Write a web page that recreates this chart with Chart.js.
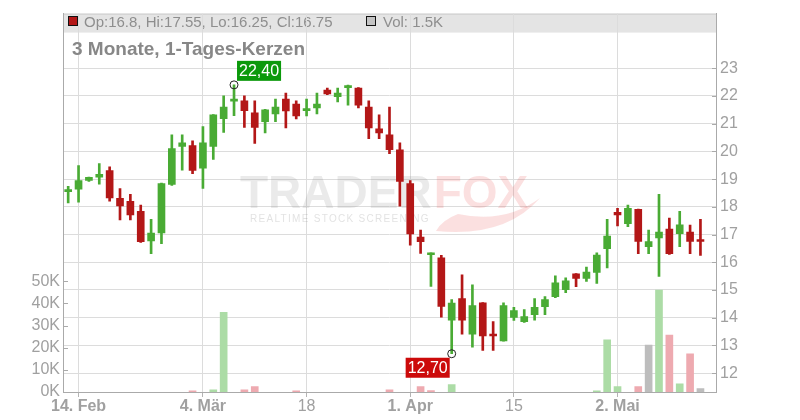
<!DOCTYPE html>
<html lang="de">
<head>
<meta charset="UTF-8" />
<title>3 Monate, 1-Tages-Kerzen</title>
<script src="https://cdn.jsdelivr.net/npm/chart.js@4.4.1/dist/chart.umd.min.js"></script>
<style>
  html, body { margin: 0; padding: 0; background: #fff; }
  #wrap { width: 800px; height: 420px; }
</style>
</head>
<body>
<div id="wrap"><canvas id="chart" width="800" height="420"></canvas></div>
<script>
const FONT = "'Liberation Sans', Arial, sans-serif";

// x = trading day index (0 = first candle)
const tickIdx = [1, 13, 23, 33, 43, 53];
const tickLabels = ["14. Feb", "4. Mär", "18", "1. Apr", "15", "2. Mai"];
const priceTicks = [12, 13, 14, 15, 16, 17, 18, 19, 20, 21, 22, 23];
const volTicks = [0, 10, 20, 30, 40, 50]; // in K

const opens = [18.55, 18.64, 18.95, 19.07, 19.31, 18.31, 18.20, 17.84, 16.77, 17.06,
  18.81, 20.18, 20.21, 19.39, 20.18, 21.18, 21.81, 21.82, 21.39, 21.07,
  21.35, 21.89, 21.71, 21.47, 21.57, 22.21, 21.97, 22.30, 22.28, 21.60,
  20.81, 20.60, 20.06, 18.84, 16.91, 16.27, 16.16, 13.91, 14.69, 13.41,
  14.54, 13.40, 13.16, 14.01, 13.86, 14.11, 14.40, 14.76, 15.01, 15.58,
  15.42, 15.63, 16.49, 17.80, 17.39, 17.91, 16.56, 16.88, 17.20, 17.03,
  17.09, 16.80];
const highs = [18.74, 19.49, 19.07, 19.56, 19.44, 18.66, 18.45, 18.06, 17.55, 18.86,
  20.60, 20.60, 20.38, 20.89, 21.33, 22.00, 22.40, 22.00, 21.82, 21.52,
  21.89, 22.10, 21.82, 21.89, 22.10, 22.28, 22.28, 22.39, 22.30, 21.82,
  21.32, 21.60, 20.31, 18.95, 17.16, 16.34, 16.25, 14.65, 15.55, 15.19,
  14.55, 13.86, 14.54, 14.37, 14.29, 14.69, 14.76, 15.51, 15.44, 15.59,
  15.83, 16.34, 17.55, 17.95, 18.06, 17.92, 17.16, 18.45, 17.59, 17.84,
  17.34, 17.55];
const lows = [18.14, 18.17, 18.92, 18.82, 18.20, 17.53, 17.53, 16.72, 16.31, 16.67,
  18.77, 19.32, 19.20, 18.66, 19.71, 20.68, 21.29, 20.86, 20.29, 20.67,
  21.07, 20.85, 21.17, 21.28, 21.35, 22.05, 21.78, 21.67, 21.57, 20.46,
  20.46, 19.92, 18.02, 16.62, 16.32, 15.13, 14.02, 12.70, 13.41, 12.94,
  12.82, 12.82, 13.15, 13.90, 13.83, 13.91, 14.11, 14.72, 14.90, 15.12,
  15.31, 15.24, 15.80, 17.31, 17.28, 16.31, 16.31, 15.49, 16.28, 16.56,
  16.31, 16.25];
const closes = [18.57, 18.95, 19.06, 19.17, 18.32, 18.03, 17.71, 16.74, 17.05, 18.84,
  20.10, 20.31, 19.31, 20.31, 21.32, 21.60, 21.89, 21.47, 20.86, 21.50,
  21.60, 21.46, 21.28, 21.50, 21.71, 22.07, 22.10, 22.33, 21.67, 20.85,
  20.67, 20.06, 18.92, 17.02, 16.74, 16.34, 14.41, 14.53, 13.91, 14.44,
  13.34, 13.34, 14.44, 14.26, 14.04, 14.37, 14.65, 15.26, 15.33, 15.42,
  15.65, 16.26, 16.94, 17.71, 17.95, 16.75, 16.75, 17.09, 16.31, 17.35,
  16.75, 16.75];
const volumes = [0, 0, 0, 0, 0, 0, 0, 0, 0, 0,
  0, 0, 0.5, 0, 1.0, 36, 0, 1.0, 2.4, 0,
  0, 0, 0.5, 0, 0, 0, 0, 0, 0, 0,
  0, 1.0, 0, 0, 2.4, 0.6, 0, 3.3, 0, 0,
  0, 0, 0, 0, 0, 0, 0, 0, 0, 0,
  0, 0.5, 23.5, 2.4, 0, 2.4, 21.2, 46, 25.7, 3.7,
  17.2, 1.5];

const days = opens.map((_, i) => i);
const GREEN = '#49ab34', RED = '#b31717';
const candleColors = days.map(i => closes[i] >= opens[i] ? GREEN : RED);
const volColors = days.map(i => {
  if (i === 0 || closes[i] === closes[i - 1]) return '#bdbdbd';
  return closes[i] > closes[i - 1] ? '#acdca6' : '#eeaab0';
});

const fmt = v => v.toFixed(2).replace('.', ',');

const decor = {
  id: 'decor',
  beforeDraw(chart) {
    const { ctx, chartArea: a } = chart;
    const last = days.length - 1;
    ctx.save();
    // info bar
    ctx.fillStyle = '#e4e4e4';
    ctx.fillRect(a.left, a.top, a.right - a.left, 19);
    ctx.strokeStyle = '#cccccc';
    ctx.lineWidth = 1;
    ctx.beginPath();
    ctx.moveTo(a.left, a.top + 0.5);
    ctx.lineTo(a.right, a.top + 0.5);
    ctx.stroke();

    ctx.strokeStyle = '#111';
    ctx.fillStyle = candleColors[last];
    ctx.fillRect(68.5, 16.5, 9, 9);
    ctx.strokeRect(68.5, 16.5, 9, 9);
    ctx.fillStyle = '#c4c4c4';
    ctx.fillRect(366.5, 16.5, 9, 9);
    ctx.strokeRect(366.5, 16.5, 9, 9);

    ctx.font = '15px ' + FONT;
    ctx.fillStyle = '#8e8e8e';
    ctx.textBaseline = 'alphabetic';
    ctx.fillText('Op:' + opens[last] + ', Hi:' + highs[last] + ', Lo:' + lows[last] +
      ', Cl:' + closes[last], 84, 26.5);
    ctx.fillText('Vol: ' + volumes[last] + 'K', 383, 26.5);
    ctx.restore();
  },
  beforeDatasetsDraw(chart) {
    // watermark
    const { ctx } = chart;
    ctx.save();
    ctx.font = 'bold 46px ' + FONT;
    ctx.textBaseline = 'alphabetic';
    ctx.fillStyle = 'rgba(140,140,140,0.18)';
    ctx.fillText('TRADER', 240, 208);
    const w = ctx.measureText('TRADER').width;
    ctx.fillStyle = 'rgba(230,60,60,0.16)';
    ctx.fillText('FOX', 240 + w + 2, 208);
    ctx.beginPath();
    ctx.moveTo(436, 231);
    ctx.quadraticCurveTo(505, 238, 540, 198);
    ctx.quadraticCurveTo(505, 224, 458, 214);
    ctx.quadraticCurveTo(442, 220, 436, 231);
    ctx.fill();
    ctx.font = '10px ' + FONT;
    ctx.letterSpacing = '1.3px';
    ctx.fillStyle = 'rgba(140,140,140,0.25)';
    ctx.fillText('REALTIME STOCK SCREENING', 250, 222);
    ctx.restore();
  },
  afterDraw(chart) {
    const { ctx, chartArea: a, scales } = chart;
    ctx.save();
    // inward tick marks
    ctx.strokeStyle = '#aaaaaa';
    ctx.lineWidth = 1;
    ctx.beginPath();
    priceTicks.forEach(v => {
      const y = Math.round(scales.y.getPixelForValue(v)) + 0.5;
      ctx.moveTo(a.right - 4, y); ctx.lineTo(a.right, y);
    });
    volTicks.forEach(v => {
      const y = Math.round(scales.yVol.getPixelForValue(v)) + 0.5;
      ctx.moveTo(a.left, y); ctx.lineTo(a.left + 5, y);
    });
    ctx.stroke();

    // title
    ctx.font = 'bold 19px ' + FONT;
    ctx.fillStyle = '#878787';
    ctx.textBaseline = 'alphabetic';
    ctx.fillText('3 Monate, 1-Tages-Kerzen', 72, 55);

    // high / low markers
    const hi = highs.indexOf(Math.max(...highs));
    const lo = lows.indexOf(Math.min(...lows));
    const mark = (i, v, bg, above) => {
      const px = scales.x.getPixelForValue(i);
      const py = scales.y.getPixelForValue(v);
      ctx.strokeStyle = '#222';
      ctx.lineWidth = 1;
      ctx.beginPath();
      ctx.arc(px, py, 4, 0, Math.PI * 2);
      ctx.stroke();
      ctx.font = '16px ' + FONT;
      const txt = fmt(v);
      const bw = ctx.measureText(txt).width + 4;
      const bx = above ? px + 3 : px - 2 - bw;
      const by = above ? py - 24 : py + 4;
      ctx.fillStyle = bg;
      ctx.fillRect(bx, by, bw, 20);
      ctx.fillStyle = '#fff';
      ctx.textAlign = 'center';
      ctx.textBaseline = 'middle';
      ctx.fillText(txt, bx + bw / 2, by + 10.5);
      ctx.textAlign = 'left';
      ctx.textBaseline = 'alphabetic';
    };
    mark(hi, highs[hi], '#0b990b', true);
    mark(lo, lows[lo], '#cc0a0a', false);
    ctx.restore();
  }
};

new Chart(document.getElementById('chart'), {
  type: 'bar',
  data: {
    datasets: [
      {
        label: 'Volumen',
        data: days.map(i => ({ x: i, y: volumes[i] || null })),
        yAxisID: 'yVol',
        backgroundColor: volColors,
        barThickness: 7,
        grouped: false,
        order: 3
      },
      {
        label: 'Docht',
        data: days.map(i => ({ x: i, y: [lows[i], highs[i]] })),
        yAxisID: 'y',
        backgroundColor: candleColors,
        barThickness: 2,
        grouped: false,
        order: 2
      },
      {
        label: 'Kerze',
        data: days.map(i => ({ x: i, y: [opens[i], closes[i]] })),
        yAxisID: 'y',
        backgroundColor: candleColors,
        barThickness: 7,
        minBarLength: 2,
        grouped: false,
        order: 1
      }
    ]
  },
  options: {
    responsive: false,
    animation: false,
    layout: { padding: { top: 11, left: 0, right: 0, bottom: 0 } },
    plugins: { legend: { display: false }, tooltip: { enabled: false } },
    scales: {
      x: {
        type: 'linear',
        min: -0.5,
        max: 62.5,
        offset: false,
        afterBuildTicks: s => { s.ticks = tickIdx.map(v => ({ value: v })); },
        afterFit: s => { s.height = 28; },
        ticks: {
          autoSkip: false,
          maxRotation: 0,
          padding: 0,
          color: '#a0a0a0',
          font: c => {
            const lab = c.tick ? tickLabels[tickIdx.indexOf(c.tick.value)] : '';
            return { family: FONT, size: 16, weight: lab && lab.includes('.') ? 'bold' : 'normal' };
          },
          callback: v => tickLabels[tickIdx.indexOf(v)]
        },
        grid: { color: '#dcdcdc', tickColor: '#b4b4b4', tickLength: 5, offset: false },
        border: { color: '#aaaaaa' }
      },
      y: {
        type: 'linear',
        position: 'right',
        min: 11.32,
        max: 24.97,
        afterBuildTicks: s => { s.ticks = priceTicks.map(v => ({ value: v })); },
        afterFit: s => { s.width = 84; },
        ticks: { padding: 4, color: '#a0a0a0', font: { family: FONT, size: 16 } },
        grid: { color: '#dcdcdc', drawTicks: false },
        border: { color: '#aaaaaa' }
      },
      yVol: {
        type: 'linear',
        position: 'left',
        min: 0,
        max: 170.85,
        afterBuildTicks: s => { s.ticks = volTicks.map(v => ({ value: v })); },
        afterFit: s => { s.width = 63; },
        ticks: {
          padding: 3,
          color: '#a0a0a0',
          font: { family: FONT, size: 16 },
          callback: v => v + 'K'
        },
        grid: { display: false, drawTicks: false },
        border: { color: '#aaaaaa' }
      }
    }
  },
  plugins: [decor]
});
</script>
</body>
</html>
